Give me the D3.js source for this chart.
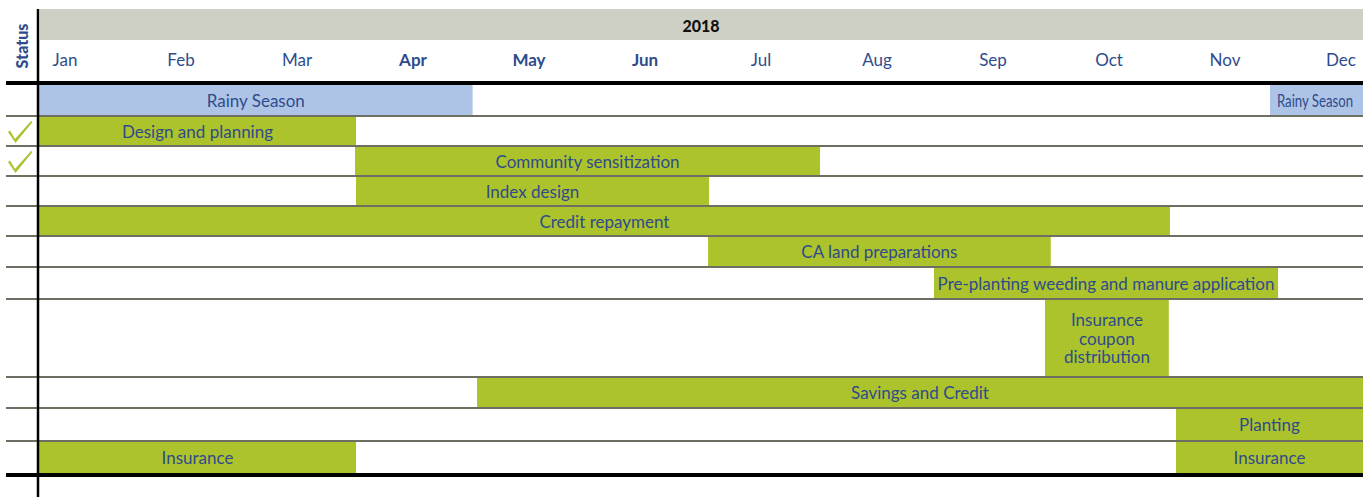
<!DOCTYPE html>
<html><head><meta charset="utf-8">
<script src="https://cdn.jsdelivr.net/npm/d3@7"></script>
<style>
body{margin:0;background:#fff;}
svg text{font-family:Lato,"Open Sans",sans-serif;}
</style>
</head><body>
<svg id="chart" width="1364" height="497"></svg>
<script>
// ---------- data ----------
const year = "2018";
const months = ["Jan","Feb","Mar","Apr","May","Jun","Jul","Aug","Sep","Oct","Nov","Dec"];
const boldMonths = ["Apr","May","Jun"];
const rowNames = ["Rainy Season","Design and planning","Community sensitization","Index design",
  "Credit repayment","CA land preparations","Pre-planting weeding and manure application",
  "Insurance coupon distribution","Savings and Credit","Planting","Insurance"];
const rowDone = [false,true,true,false,false,false,false,false,false,false,false];
// tasks (time in months from 1 Jan 2018)
const taskLabels = ["Rainy Season","Rainy Season","Design and planning","Community sensitization",
  "Index design","Credit repayment","CA land preparations","Pre-planting weeding and manure application",
  "Insurance|coupon|distribution","Savings and Credit","Planting","Insurance","Insurance"];
const taskRow   = [0,0,1,2,3,4,5,6,7,8,9,10,10];
const taskStart = [0,11.157,0,2.864,2.873,0,6.064,8.112,9.118,3.97,10.305,0,10.305];
const taskEnd   = [3.93,12,2.873,7.079,6.073,10.25,9.17,11.23,10.24,12,12,2.873,12];
const taskType  = ["rain","rain","act","act","act","act","act","act","act","act","act","act","act"];

// ---------- layout ----------
const W = 1364, H = 497;
const left = 39, right = 1363, lineStart = 6;
const headTop = 9, headBottom = 40, thickTop = 83;
const rowHeights = [31,30,30,30,30,31,32,78,31,33,32];
const rowsTop = 85;
const colors = {green:"#acc32b", rain:"#aec4e6", head:"#cfd0c5", text:"#2f4b8c", line:"#6e6e62", check:"#a6c530"};

const svg = d3.select("#chart");
const x = d3.scaleLinear().domain([0,12]).range([left,right]);
const xm = d3.scalePoint().domain(months).range([65,1341]);
const bounds = [rowsTop, ...d3.cumsum(rowHeights).map(v=>rowsTop+v)];
const y = d3.scaleOrdinal().domain(d3.range(rowNames.length)).range(bounds.slice(0,-1));
const yh = i => bounds[i+1]-bounds[i];
const bottom = bounds[bounds.length-1];

// header band
svg.append("rect").attr("x",left+1).attr("y",headTop).attr("width",right-left-1).attr("height",headBottom-headTop).attr("fill",colors.head);
svg.append("text").attr("x",(left+right)/2).attr("y",(headTop+headBottom)/2+3).attr("text-anchor","middle")
  .attr("dominant-baseline","middle").attr("font-weight","900").attr("font-size",16).attr("fill","#111").text(year);

// month labels
svg.append("g").selectAll("text").data(months).join("text")
  .attr("x",d=>xm(d)).attr("y",62).attr("text-anchor","middle").attr("dominant-baseline","middle")
  .attr("font-size",17).attr("font-weight",d=>boldMonths.includes(d)?"bold":"normal")
  .attr("fill",colors.text).text(d=>d);

// status label
svg.append("text").attr("transform","translate(24,46) rotate(-90)").attr("text-anchor","middle")
  .attr("dominant-baseline","middle").attr("font-weight","900").attr("font-size",16)
  .attr("fill",colors.text).text("Status");

// bars
const tasks = taskLabels.map((l,i)=>({label:l,row:taskRow[i],s:taskStart[i],e:taskEnd[i],type:taskType[i]}));
svg.append("g").selectAll("rect").data(tasks).join("rect")
  .attr("x",d=>x(d.s)).attr("y",d=>y(d.row)).attr("width",d=>x(d.e)-x(d.s)).attr("height",d=>yh(d.row))
  .attr("fill",d=>d.type==="rain"?colors.rain:colors.green);

// row lines
svg.append("g").selectAll("line").data(bounds.slice(1,-1)).join("line")
  .attr("x1",lineStart).attr("x2",right).attr("y1",d=>d).attr("y2",d=>d)
  .attr("stroke",colors.line).attr("stroke-width",2);

// thick lines
svg.append("line").attr("x1",lineStart).attr("x2",right).attr("y1",thickTop).attr("y2",thickTop).attr("stroke","#000").attr("stroke-width",4);
svg.append("line").attr("x1",lineStart).attr("x2",right).attr("y1",bottom+2).attr("y2",bottom+2).attr("stroke","#000").attr("stroke-width",4);
svg.append("line").attr("x1",left-1).attr("x2",left-1).attr("y1",headTop).attr("y2",H).attr("stroke","#000").attr("stroke-width",2.5);

// bar labels
const lab = svg.append("g").selectAll("text").data(tasks).join("text")
  .attr("text-anchor","middle").attr("fill",colors.text).attr("font-size",17);
lab.each(function(d){
  const t = d3.select(this);
  const lines = d.label.split("|");
  const cx = (x(d.s)+x(d.e))/2;
  const cy = y(d.row)+yh(d.row)/2 + 2.5;
  const lh = 18.5;
  const narrow = d.type==="rain" && x(d.e)-x(d.s) < 120;
  if (narrow) {
    // condensed label in a narrow bar
    t.attr("transform",`translate(${cx-1.5},${cy}) scale(0.8,1)`).attr("font-size",16.5)
      .append("tspan").attr("x",0).attr("y",0).attr("dominant-baseline","middle").text(lines[0]);
    return;
  }
  lines.forEach((ln,k)=>{
    t.append("tspan").attr("x",cx).attr("y",cy+(k-(lines.length-1)/2)*lh)
      .attr("dominant-baseline","middle").text(ln);
  });
});

// status checkmarks (glyph shape relative to row centre)
const checkGlyph = [[-12,0],[-10,-1.5],[-5,7],[11,-11],[12.5,-10],[-4.5,11]];
const checkPath = d3.line()(checkGlyph) + "Z";
svg.append("g").selectAll("path").data(d3.range(rowNames.length).filter(i=>rowDone[i])).join("path")
  .attr("transform",i=>`translate(20,${y(i)+yh(i)/2+1})`).attr("d",checkPath).attr("fill",colors.check);
</script>
</body></html>
